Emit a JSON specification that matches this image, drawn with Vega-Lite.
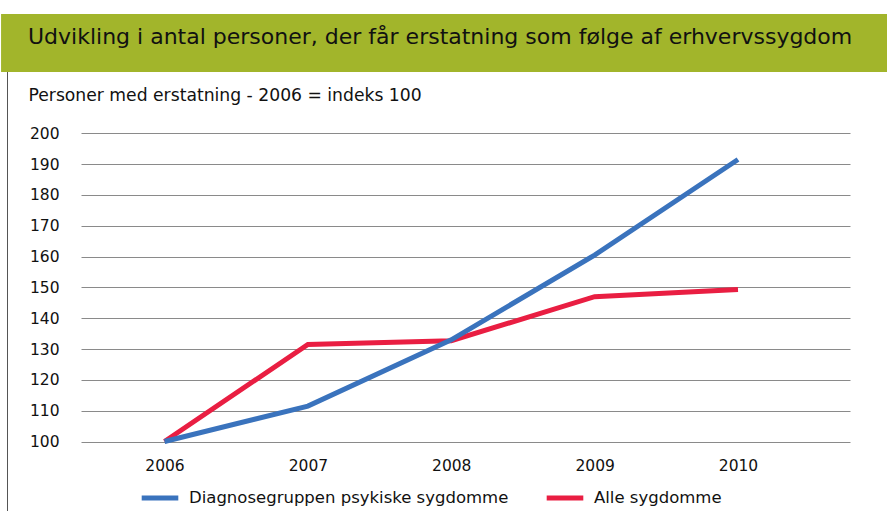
{
  "$schema": "https://vega.github.io/schema/vega-lite/v6.json",
  "autosize": "none",
  "width": 880,
  "height": 497,
  "padding": {"left": 7, "top": 14, "right": 0, "bottom": 0},
  "background": "white",
  "view": {"stroke": "#555555", "strokeWidth": 1},
  "config": {"font": "DejaVu Sans"},
  "layer": [
    {
      "data": {"values": [{"overskrift": "Udvikling i antal personer, der får erstatning som følge af erhvervssygdom"}]},
      "layer": [
        {
          "mark": {"type": "rect", "color": "#A2B52B", "opacity": 1},
          "encoding": {
            "x": {"datum": 2004.86, "type": "quantitative"},
            "x2": {"datum": 2011.5},
            "y": {"datum": 238.7, "type": "quantitative"},
            "y2": {"datum": 219.9}
          }
        },
        {
          "mark": {"type": "text", "align": "left", "baseline": "alphabetic", "fontSize": 22, "color": "#111111", "font": "DejaVu Sans"},
          "encoding": {
            "x": {"datum": 2005.048, "type": "quantitative"},
            "y": {"datum": 228.9, "type": "quantitative"},
            "text": {"field": "overskrift"}
          }
        }
      ]
    },
    {
      "data": {
        "values": [
          {"aar": 2006, "serie": "Alle sygdomme", "indeks": 100},
          {"aar": 2007, "serie": "Alle sygdomme", "indeks": 131.5},
          {"aar": 2008, "serie": "Alle sygdomme", "indeks": 132.7},
          {"aar": 2009, "serie": "Alle sygdomme", "indeks": 147},
          {"aar": 2010, "serie": "Alle sygdomme", "indeks": 149.3},
          {"aar": 2006, "serie": "Diagnosegruppen psykiske sygdomme", "indeks": 100},
          {"aar": 2007, "serie": "Diagnosegruppen psykiske sygdomme", "indeks": 111.5},
          {"aar": 2008, "serie": "Diagnosegruppen psykiske sygdomme", "indeks": 133},
          {"aar": 2009, "serie": "Diagnosegruppen psykiske sygdomme", "indeks": 160.5},
          {"aar": 2010, "serie": "Diagnosegruppen psykiske sygdomme", "indeks": 191.5}
        ]
      },
      "mark": {"type": "line", "strokeWidth": 5},
      "encoding": {
        "x": {
          "field": "aar",
          "type": "quantitative",
          "scale": {"domain": [2005.4176, 2010.7812], "range": [74, 843], "nice": false, "zero": false},
          "axis": {
            "title": null,
            "values": [2006, 2007, 2008, 2009, 2010],
            "format": "d",
            "grid": false,
            "domain": false,
            "ticks": false,
            "tickSize": 0,
            "offset": -55,
            "labelPadding": 2,
            "labelFontSize": 15.5,
            "labelColor": "#111111",
            "labelFont": "DejaVu Sans"
          }
        },
        "y": {
          "field": "indeks",
          "type": "quantitative",
          "scale": {"domain": [100, 200], "range": [427.5, 119.3], "nice": false, "zero": false},
          "axis": {
            "title": "Personer med erstatning - 2006 = indeks 100",
            "titleAngle": 0,
            "titleAlign": "left",
            "titleBaseline": "alphabetic",
            "titleX": -31,
            "titleY": 86.7,
            "titleFontSize": 17.2,
            "titleFontWeight": "normal",
            "titleColor": "#111111",
            "titleFont": "DejaVu Sans",
            "values": [100, 110, 120, 130, 140, 150, 160, 170, 180, 190, 200],
            "grid": true,
            "gridColor": "#8a8a8a",
            "gridWidth": 1,
            "gridOpacity": 1,
            "domain": false,
            "ticks": false,
            "tickSize": 0,
            "offset": -52,
            "labelPadding": 0,
            "labelFontSize": 15.5,
            "labelColor": "#111111",
            "labelFont": "DejaVu Sans"
          }
        },
        "color": {
          "field": "serie",
          "type": "nominal",
          "scale": {
            "domain": ["Diagnosegruppen psykiske sygdomme", "Alle sygdomme"],
            "range": ["#3A73BD", "#E91E42"]
          },
          "legend": {
            "title": null,
            "orient": "none",
            "legendX": 132,
            "legendY": 463,
            "direction": "horizontal",
            "symbolType": "stroke",
            "symbolSize": 1340,
            "symbolStrokeWidth": 5,
            "labelFontSize": 16.5,
            "labelFont": "DejaVu Sans",
            "labelColor": "#111111",
            "labelOffset": 8,
            "columnPadding": 27,
            "labelLimit": 0
          }
        }
      }
    }
  ]
}
